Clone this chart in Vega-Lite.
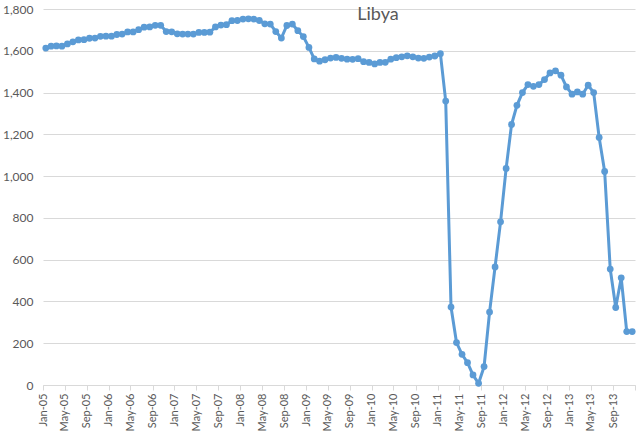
{
  "$schema": "https://vega.github.io/schema/vega-lite/v6.json",
  "autosize": {"type": "none"},
  "width": 592,
  "height": 376,
  "padding": {"left": 43, "top": 9, "right": 7, "bottom": 48},
  "background": "white",
  "title": {"text": "Libya", "anchor": "middle", "frame": "group", "orient": "top", "dx": 39, "dy": 25, "font": "Lato", "fontSize": 18, "fontWeight": "normal", "color": "#595959"},
  "config": {"view": {"stroke": null}, "font": "Lato"},
  "data": {"values": [
    {"date":"2005-01-01","v":1613},{"date":"2005-02-01","v":1622},{"date":"2005-03-01","v":1623},{"date":"2005-04-01","v":1622},
    {"date":"2005-05-01","v":1633},{"date":"2005-06-01","v":1643},{"date":"2005-07-01","v":1652},{"date":"2005-08-01","v":1653},
    {"date":"2005-09-01","v":1660},{"date":"2005-10-01","v":1661},{"date":"2005-11-01","v":1669},{"date":"2005-12-01","v":1670},
    {"date":"2006-01-01","v":1670},{"date":"2006-02-01","v":1678},{"date":"2006-03-01","v":1680},{"date":"2006-04-01","v":1690},
    {"date":"2006-05-01","v":1690},{"date":"2006-06-01","v":1701},{"date":"2006-07-01","v":1713},{"date":"2006-08-01","v":1714},
    {"date":"2006-09-01","v":1722},{"date":"2006-10-01","v":1722},{"date":"2006-11-01","v":1692},{"date":"2006-12-01","v":1691},
    {"date":"2007-01-01","v":1681},{"date":"2007-02-01","v":1680},{"date":"2007-03-01","v":1680},{"date":"2007-04-01","v":1680},
    {"date":"2007-05-01","v":1688},{"date":"2007-06-01","v":1688},{"date":"2007-07-01","v":1689},{"date":"2007-08-01","v":1714},
    {"date":"2007-09-01","v":1723},{"date":"2007-10-01","v":1725},{"date":"2007-11-01","v":1744},{"date":"2007-12-01","v":1745},
    {"date":"2008-01-01","v":1752},{"date":"2008-02-01","v":1753},{"date":"2008-03-01","v":1752},{"date":"2008-04-01","v":1745},
    {"date":"2008-05-01","v":1729},{"date":"2008-06-01","v":1728},{"date":"2008-07-01","v":1692},{"date":"2008-08-01","v":1661},
    {"date":"2008-09-01","v":1721},{"date":"2008-10-01","v":1728},{"date":"2008-11-01","v":1696},{"date":"2008-12-01","v":1668},
    {"date":"2009-01-01","v":1616},{"date":"2009-02-01","v":1561},{"date":"2009-03-01","v":1550},{"date":"2009-04-01","v":1557},
    {"date":"2009-05-01","v":1565},{"date":"2009-06-01","v":1568},{"date":"2009-07-01","v":1564},{"date":"2009-08-01","v":1560},
    {"date":"2009-09-01","v":1559},{"date":"2009-10-01","v":1562},{"date":"2009-11-01","v":1548},{"date":"2009-12-01","v":1544},
    {"date":"2010-01-01","v":1537},{"date":"2010-02-01","v":1544},{"date":"2010-03-01","v":1545},{"date":"2010-04-01","v":1560},
    {"date":"2010-05-01","v":1567},{"date":"2010-06-01","v":1571},{"date":"2010-07-01","v":1576},{"date":"2010-08-01","v":1571},
    {"date":"2010-09-01","v":1565},{"date":"2010-10-01","v":1564},{"date":"2010-11-01","v":1570},{"date":"2010-12-01","v":1575},
    {"date":"2011-01-01","v":1586},{"date":"2011-02-01","v":1359},{"date":"2011-03-01","v":373},{"date":"2011-04-01","v":203},
    {"date":"2011-05-01","v":147},{"date":"2011-06-01","v":107},{"date":"2011-07-01","v":48},{"date":"2011-08-01","v":8},
    {"date":"2011-09-01","v":88},{"date":"2011-10-01","v":349},{"date":"2011-11-01","v":565},{"date":"2011-12-01","v":781},
    {"date":"2012-01-01","v":1037},{"date":"2012-02-01","v":1247},{"date":"2012-03-01","v":1339},{"date":"2012-04-01","v":1400},
    {"date":"2012-05-01","v":1438},{"date":"2012-06-01","v":1430},{"date":"2012-07-01","v":1438},{"date":"2012-08-01","v":1462},
    {"date":"2012-09-01","v":1494},{"date":"2012-10-01","v":1504},{"date":"2012-11-01","v":1483},{"date":"2012-12-01","v":1427},
    {"date":"2013-01-01","v":1392},{"date":"2013-02-01","v":1403},{"date":"2013-03-01","v":1392},{"date":"2013-04-01","v":1435},
    {"date":"2013-05-01","v":1400},{"date":"2013-06-01","v":1185},{"date":"2013-07-01","v":1022},{"date":"2013-08-01","v":555},
    {"date":"2013-09-01","v":371},{"date":"2013-10-01","v":513},{"date":"2013-11-01","v":256},{"date":"2013-12-01","v":256}
  ]},
  "mark": {"type": "line", "color": "#5B9BD5", "strokeWidth": 3, "point": {"filled": true, "size": 46, "color": "#5B9BD5"}},
  "encoding": {
    "x": {
      "field": "date", "type": "temporal", "timeUnit": "utcyearmonth", "bandPosition": 0.5,
      "scale": {"type": "utc", "domain": [{"year": 2005, "month": 1, "date": 1, "utc": true}, {"year": 2014, "month": 1, "date": 1, "utc": true}]},
      "axis": {
        "title": null, "grid": false,
        "tickCount": {"interval": "month", "step": 4},
        "labelExpr": "datum.value >= 1388534400000 ? '' : utcFormat(datum.value, '%b-%y')",
        "labelAngle": -90, "labelFontSize": 11, "labelColor": "#595959", "labelPadding": 3,
        "domainColor": "#D9D9D9", "tickColor": "#D9D9D9", "tickSize": 5,
        "labelFlush": false, "labelOverlap": false
      }
    },
    "y": {
      "field": "v", "type": "quantitative",
      "scale": {"domain": [0, 1800], "nice": false},
      "axis": {
        "title": null, "values": [0,200,400,600,800,1000,1200,1400,1600,1800],
        "labelExpr": "format(datum.value, ',')",
        "domain": false, "ticks": false, "labelPadding": 10,
        "labelFontSize": 12, "labelColor": "#595959",
        "gridColor": "#D9D9D9", "gridWidth": 1
      }
    }
  }
}
